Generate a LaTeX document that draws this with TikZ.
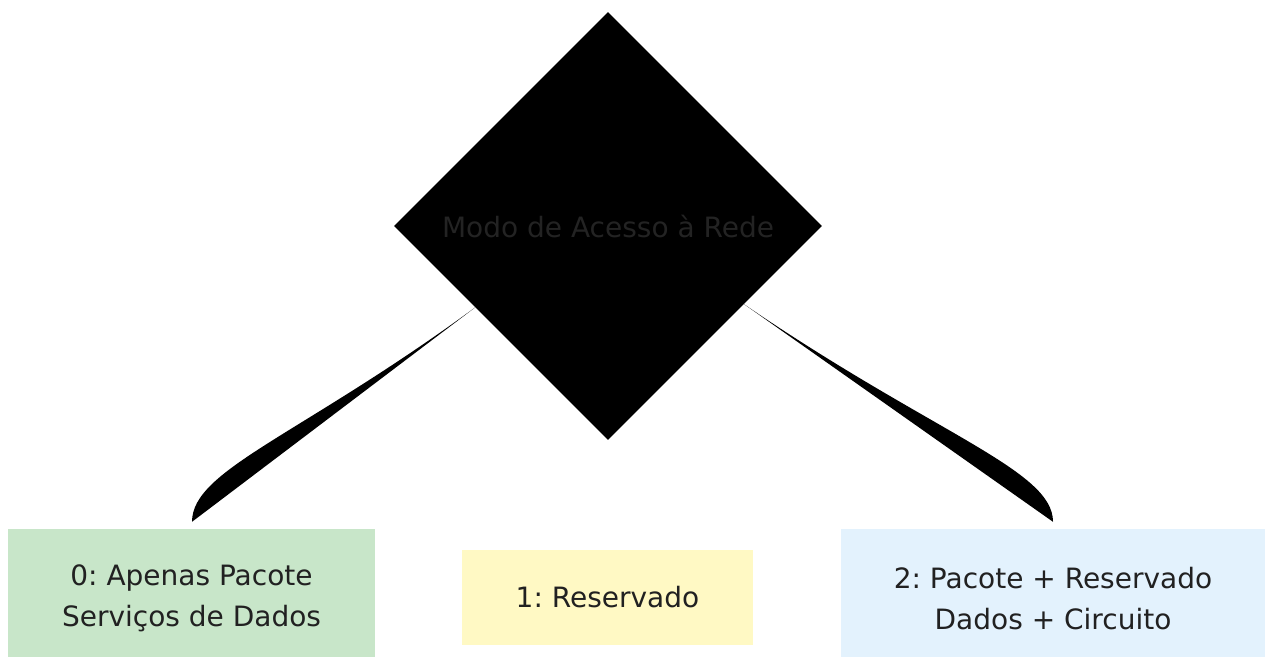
\documentclass[tikz,border=0pt]{standalone}
\usepackage{fontspec}
\setmainfont{DejaVu Sans}
\usetikzlibrary{shapes.geometric,calc}
\definecolor{dtext}{HTML}{232323}
\definecolor{btext}{HTML}{212121}
\definecolor{gfill}{HTML}{C8E6C9}
\definecolor{yfill}{HTML}{FFF9C4}
\definecolor{bfill}{HTML}{E3F2FD}
\frenchspacing
\begin{document}
\begin{tikzpicture}[x=1pt,y=-1pt,
  decision/.style={diamond,aspect=1,fill=black,minimum width=428pt,minimum height=428pt,inner sep=0pt,text=dtext,font=\fontsize{28}{34}\selectfont\frenchspacing},
  optbox/.style={rectangle,inner sep=0pt,align=center,text=btext,font=\fontsize{28}{41}\selectfont\frenchspacing},
  opttext/.style={inner sep=0pt,align=center,text=btext,font=\fontsize{28}{41.5}\selectfont\frenchspacing},
  wedge/.style={fill=black}]
\useasboundingbox (0,0) rectangle (1265,657);
\node[decision] (d) at (608,226) {Modo de Acesso à Rede};
\node[optbox,fill=gfill,minimum width=367pt,minimum height=128pt,
  label={[opttext,yshift=-5.5pt]center:0: Apenas Pacote\\Serviços de Dados}] (g) at (191.5,593) {};
\node[optbox,fill=yfill,minimum width=291pt,minimum height=95pt] (y) at (607.5,597.5) {1: Reservado};
\node[optbox,fill=bfill,minimum width=424pt,minimum height=128pt,
  label={[opttext,yshift=-5.5pt]center:2: Pacote + Reservado\\Dados + Circuito}] (b) at (1053,593) {};
\coordinate (lt) at ($(d.west)!0.38!(d.south)$);
\coordinate (lb) at ($(g.north)+(0.5pt,7pt)$);
\coordinate (rt) at ($(d.east)!0.365!(d.south)$);
\coordinate (rb) at ($(b.north)+(0pt,7pt)$);
\fill[wedge] (lt) .. controls ($(lb)+(108pt,86pt)$) and ($(lb)+(0pt,52pt)$) .. (lb) -- cycle;
\fill[wedge] (rt) .. controls ($(rb)+(-118pt,87pt)$) and ($(rb)+(0pt,52pt)$) .. (rb) -- cycle;
\end{tikzpicture}
\end{document}
